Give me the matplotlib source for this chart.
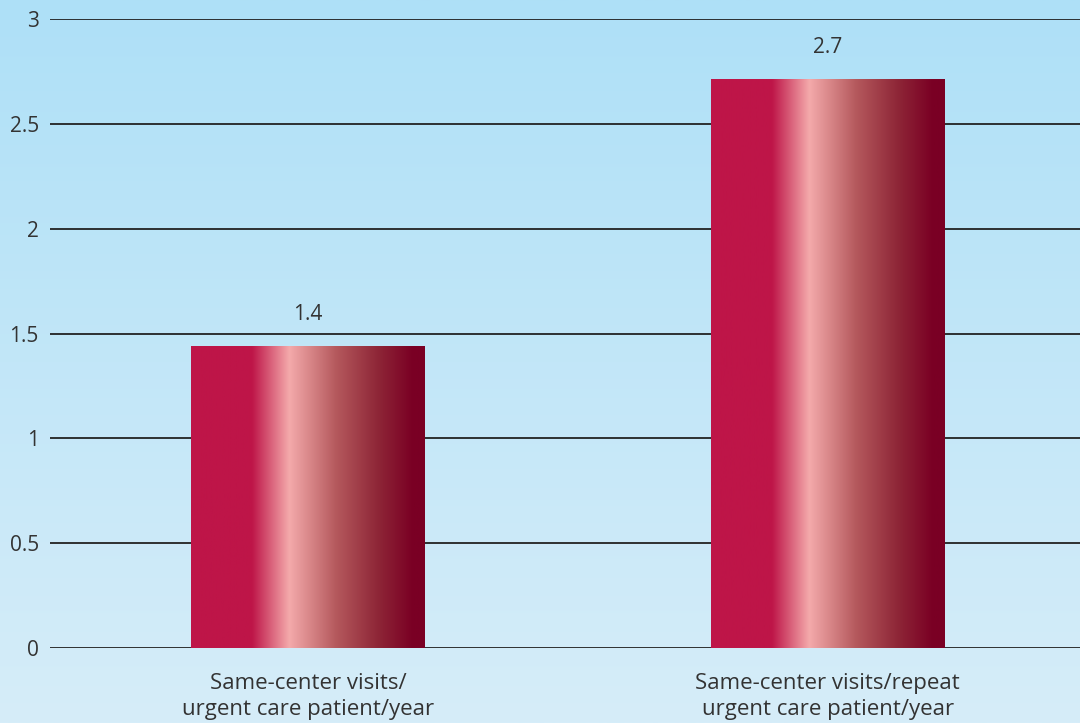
import numpy as np
import matplotlib
matplotlib.use("Agg")
from matplotlib import pyplot as plt
from matplotlib.colors import LinearSegmentedColormap

# data
categories = ["Same-center visits/\nurgent care patient/year",
              "Same-center visits/repeat\nurgent care patient/year"]
values = [1.44, 2.71]
value_labels = ["1.4", "2.7"]
yticks = [0, 0.5, 1, 1.5, 2, 2.5, 3]
ytick_labels = ["0", "0.5", "1", "1.5", "2", "2.5", "3"]

plt.rcParams['font.family'] = ['Open Sans', 'DejaVu Sans']
txt = '#333333'

fig = plt.figure(figsize=(10.8, 7.23), dpi=100)

# background gradient (light blue, darker at top)
bg = fig.add_axes([0, 0, 1, 1])
bg.axis('off')
bg_cmap = LinearSegmentedColormap.from_list('bg', ['#d6edf9', '#aee0f7'])
bg.imshow(np.linspace(0, 1, 256).reshape(-1, 1), aspect='auto', cmap=bg_cmap,
          origin='lower', extent=[0, 1, 0, 1])

ax = fig.add_axes([0.0463, 0.1037, 0.9537, 0.870])
ax.patch.set_alpha(0)

bar_cmap = LinearSegmentedColormap.from_list('bar', [
    (0.0, '#be1548'), (0.26, '#be1548'), (0.42, '#f4aaab'),
    (0.62, '#b5595d'), (0.80, '#8e2637'), (0.95, '#7a0024'), (1.0, '#7a0024')])
grad = np.linspace(0, 1, 256).reshape(1, -1)

w = 0.45
x = np.arange(len(categories))
for xi, v, lab in zip(x, values, value_labels):
    ax.imshow(grad, aspect='auto', cmap=bar_cmap, zorder=3,
              extent=[xi - w / 2, xi + w / 2, 0, v])
    ax.annotate(lab, (xi, v), xytext=(0, 23), textcoords='offset points',
                ha='center', va='center', fontsize=15, color=txt)

ax.set_xlim(-0.496, 1.485)
ax.set_ylim(0, 3)
ax.set_yticks(yticks)
ax.set_yticklabels(ytick_labels, fontsize=15, color=txt)
ax.set_xticks(x)
ax.set_xticklabels(categories, fontsize=16, color=txt, linespacing=1.3)
ax.tick_params(axis='y', length=0, pad=8)
ax.tick_params(axis='x', length=0, pad=18)
ax.grid(axis='y', color='#222222', linewidth=1.3, zorder=1)
ax.set_axisbelow(True)
for s in ax.spines.values():
    s.set_visible(False)

fig.savefig('out.png', dpi=100)
